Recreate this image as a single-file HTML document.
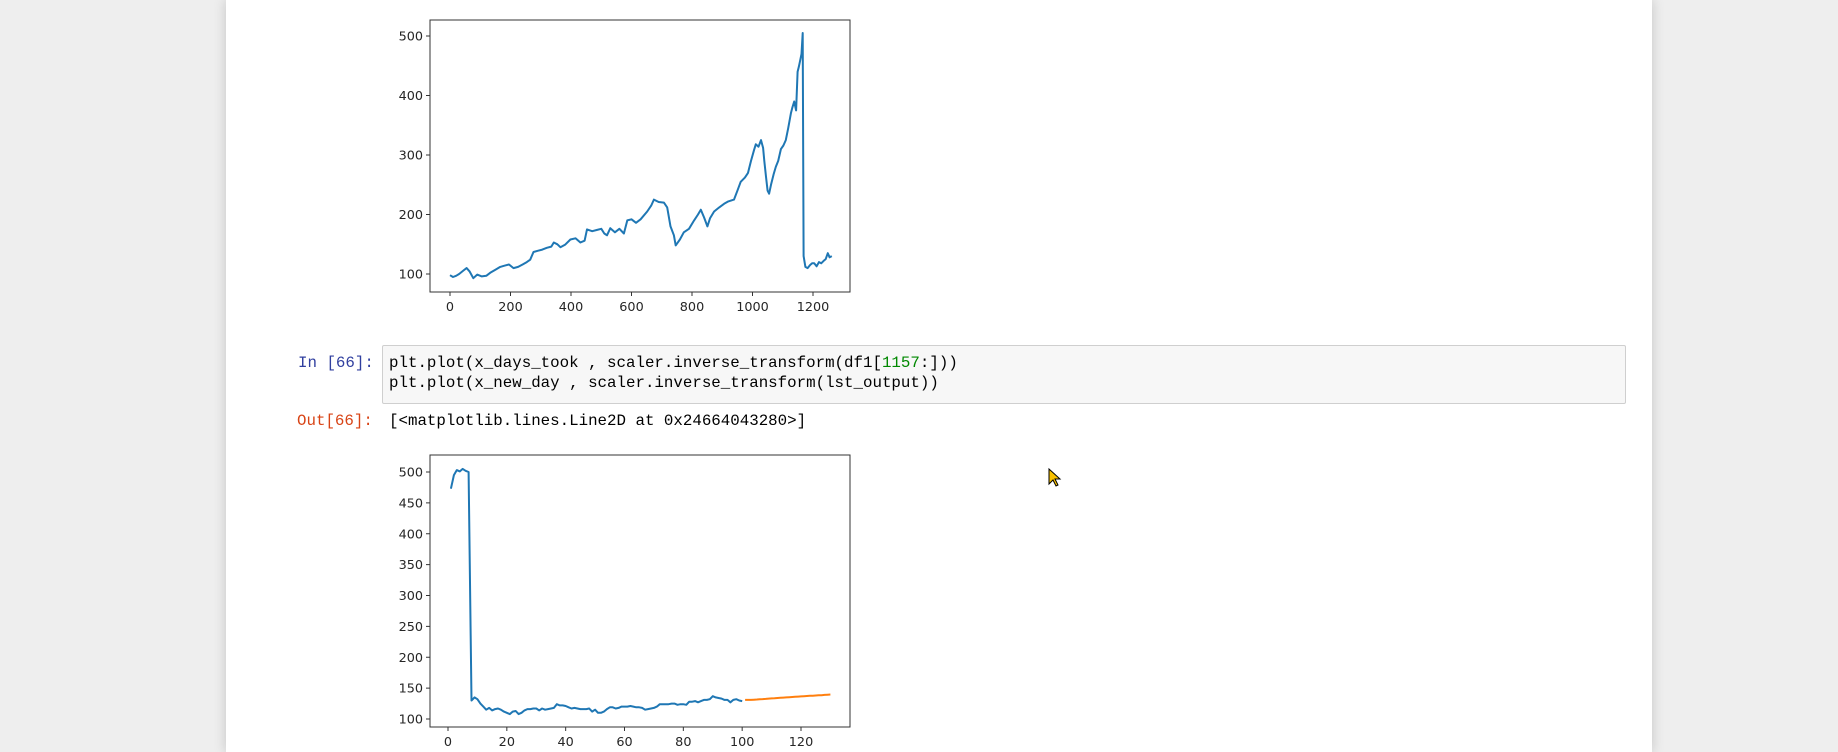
<!DOCTYPE html>
<html><head><meta charset="utf-8">
<style>
body{margin:0;width:1838px;height:752px;background:#eeeeee;overflow:hidden;position:relative;font-family:"Liberation Sans",sans-serif}
#panel{position:absolute;left:226px;top:0;width:1426px;height:752px;background:#fff;box-shadow:0 0 12px rgba(0,0,0,0.18)}
.mono{font-family:"Liberation Mono",monospace;font-size:15.8px;position:absolute;white-space:pre;line-height:20px}
#code{position:absolute;left:382px;top:345px;width:1242px;height:57px;background:#f7f7f7;border:1px solid #cfcfcf;border-radius:2px}
svg{position:absolute;left:0;top:0}
</style></head><body>
<div id="panel"></div>
<div class="mono" style="left:298px;top:353px;color:#303f9f">In [66]:</div>
<div id="code"></div>
<div class="mono" style="left:389px;top:353px;color:#000">plt.plot(x_days_took , scaler.inverse_transform(df1[<span style="color:#080">1157</span>:]))</div>
<div class="mono" style="left:389px;top:373px;color:#000">plt.plot(x_new_day , scaler.inverse_transform(lst_output))</div>
<div class="mono" style="left:297px;top:411px;color:#d84315">Out[66]:</div>
<div class="mono" style="left:389px;top:411px;color:#000">[&lt;matplotlib.lines.Line2D at 0x24664043280&gt;]</div>
<svg id="svg" width="1838" height="752" xmlns="http://www.w3.org/2000/svg">
<polygon points="1049,469 1049,484 1053,480 1056,486 1058,485 1055,479 1060,479" fill="#f7c000" stroke="#000" stroke-width="1"/>
</svg>
<script>
const c1X=[0,10,20,30,45,55,65,77,90,105,120,133,150,166,180,195,210,225,240,254,265,276,290,305,320,335,343,355,365,380,398,415,431,445,453,470,485,500,510,519,530,545,560,575,586,600,615,630,652,665,674,690,707,718,729,740,746,760,773,790,807,820,829,840,851,860,873,890,906,920,939,950,961,975,985,995,1005,1011,1020,1028,1035,1039,1045,1050,1055,1061,1070,1077,1085,1094,1102,1110,1118,1127,1132,1138,1144,1149,1153,1158,1162,1166,1169,1175,1182,1190,1197,1204,1212,1220,1227,1235,1242,1249,1255,1262];
const c1Y=[98,95,97,100,106,110,104,93,99,96,97,102,107,112,114,116,110,112,116,120,124,137,139,141,144,146,153,150,145,149,158,160,153,156,175,172,174,176,168,165,177,170,176,168,190,192,186,192,205,215,225,221,220,212,180,165,148,158,170,176,190,200,208,195,180,194,205,212,218,222,225,240,255,262,270,290,308,318,314,325,312,290,262,240,235,250,268,280,290,310,316,325,345,370,380,390,375,440,448,460,470,505,130,112,110,115,118,118,113,120,118,122,125,135,128,130];
const c2bX=[];for(let i=1;i<=100;i++)c2bX.push(i);
const c2bY=[473,495,503,501,505,502,500,130,135,132,125,120,115,118,114,116,117,115,112,110,108,112,113,108,110,114,116,116,117,117,114,117,115,116,117,118,124,122,122,121,119,117,118,117,116,116,116,117,112,115,110,110,112,116,119,119,117,118,120,120,120,121,120,119,119,118,115,116,117,118,120,124,124,124,124,125,125,123,124,124,123,128,128,129,127,129,131,131,132,137,135,134,133,131,131,127,131,132,130,129];
const c2oX=[];for(let i=101;i<=130;i++)c2oX.push(i);
const c2oY=[131,131,131,131.3,131.6,132,132.3,132.6,133,133.3,133.6,134,134.3,134.6,135,135.3,135.6,136,136.3,136.6,137,137.2,137.5,137.8,138,138.3,138.6,139,139.3,139.6];
const c1XTicks=[0,200,400,600,800,1000,1200];
const c1YTicks=[100,200,300,400,500];
const c2XTicks=[0,20,40,60,80,100,120];
const c2YTicks=[100,150,200,250,300,350,400,450,500];

const svg=document.getElementById('svg');
const NS='http://www.w3.org/2000/svg';
function mk(tag,attrs){const e=document.createElementNS(NS,tag);for(const k in attrs)e.setAttribute(k,attrs[k]);svg.appendChild(e);return e;}
function chart(box,sx,sy,xt,yt,series,pref){
  const r=mk('rect',{x:box.l,y:box.t,width:box.r-box.l,height:box.b-box.t,fill:'#fff',stroke:'#333','stroke-width':1});
  
  
  xt.forEach(v=>{const x=sx(v);
    const l=mk('line',{x1:x,x2:x,y1:box.b,y2:box.b+4,stroke:'#333'});
    
    
    const t=mk('text',{x:x,y:box.b+19,'text-anchor':'middle','font-size':'12.8px','font-family':'DejaVu Sans, sans-serif',fill:'#262626'});t.textContent=v;
    
    });
  yt.forEach(v=>{const y=sy(v);
    const l=mk('line',{x1:box.l-4,x2:box.l,y1:y,y2:y,stroke:'#333'});
    
    
    const t=mk('text',{x:box.l-7,y:y+4.5,'text-anchor':'end','font-size':'12.8px','font-family':'DejaVu Sans, sans-serif',fill:'#262626'});t.textContent=v;
    
    });
  series.forEach(s=>{const d=s.x.map((v,i)=>(i?'L':'M')+sx(v).toFixed(1)+','+sy(s.y[i]).toFixed(1)).join('');
    const p=mk('path',{d:d,fill:'none',stroke:s.c,'stroke-width':2,'stroke-linejoin':'round'});
    
    });
}
chart({l:430,t:20,r:850,b:292},v=>450+v*(363/1200),v=>274-(v-100)*(238/400),c1XTicks,c1YTicks,[{x:c1X,y:c1Y,c:'#1f77b4',n:'price-history-line'}],'chart1');
chart({l:430,t:455,r:850,b:727},v=>448+v*(353/120),v=>719-(v-100)*(247/400),c2XTicks,c2YTicks,[{x:c2bX,y:c2bY,c:'#1f77b4',n:'actual-line'},{x:c2oX,y:c2oY,c:'#ff7f0e',n:'forecast-line'}],'chart2');
svg.appendChild(svg.querySelector('polygon'));
</script>
</body></html>
